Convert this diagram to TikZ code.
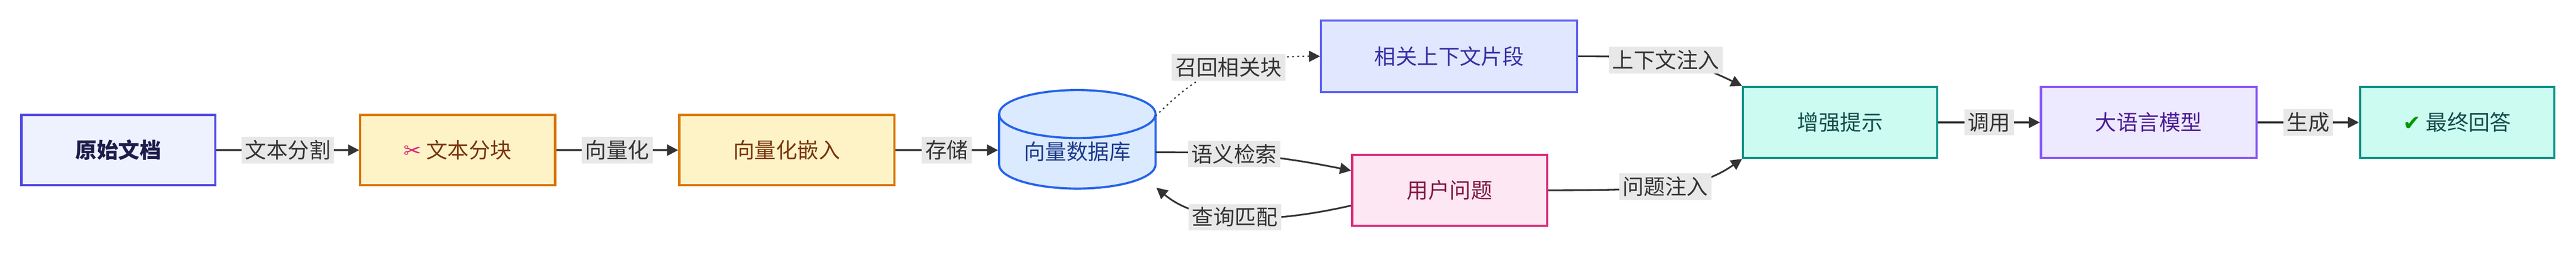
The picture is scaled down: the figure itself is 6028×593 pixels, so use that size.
\documentclass[tikz,border=0pt]{standalone}
\usepackage{fontspec}
\setmainfont{Noto Sans CJK SC}
\newfontfamily\symfont{DejaVu Sans}
\usetikzlibrary{shapes.geometric,arrows.meta}
\definecolor{docfill}{HTML}{EEF2FF}\definecolor{docdraw}{HTML}{4F46E5}\definecolor{doctext}{HTML}{1E1B4B}
\definecolor{procfill}{HTML}{FEF3C7}\definecolor{procdraw}{HTML}{D97706}\definecolor{proctext}{HTML}{78350F}
\definecolor{dbfill}{HTML}{DBEAFE}\definecolor{dbdraw}{HTML}{2563EB}\definecolor{dbtext}{HTML}{1E3A8A}
\definecolor{ctxfill}{HTML}{E0E7FF}\definecolor{ctxdraw}{HTML}{6366F1}\definecolor{ctxtext}{HTML}{3730A3}
\definecolor{qfill}{HTML}{FCE7F3}\definecolor{qdraw}{HTML}{DB2777}\definecolor{qtext}{HTML}{831843}
\definecolor{outfill}{HTML}{CCFBF1}\definecolor{outdraw}{HTML}{0D9488}\definecolor{outtext}{HTML}{134E4A}
\definecolor{llmfill}{HTML}{EDE9FE}\definecolor{llmdraw}{HTML}{8B5CF6}\definecolor{llmtext}{HTML}{4C1D95}
\definecolor{lblfill}{HTML}{E8E8E8}\definecolor{edgecol}{HTML}{333333}
\tikzset{%
    box/.style={shape=rectangle,line width=5pt,inner sep=0pt,font=\fontsize{50}{60}\selectfont},
    flow/.style={-{Triangle[length=26pt,width=26pt]},line width=4pt,draw=edgecol},
    lbl/.style={fill=lblfill,text=edgecol,inner sep=8pt,font=\fontsize{50}{60}\selectfont},
}
\begin{document}
\begin{tikzpicture}[x=1pt,y=-1pt]
        \useasboundingbox (0,0) rectangle (6028,593);
        % nodes
        \node[box,fill=docfill,draw=docdraw,text=doctext,font=\fontsize{50}{60}\selectfont\bfseries,minimum width=454pt,minimum height=165pt] (doc) at (277,352) {原始文档};
        \node[box,fill=procfill,draw=procdraw,text=proctext,minimum width=456pt,minimum height=165pt] (chunk) at (1071,352) {{\symfont\color{qdraw}✂}\ 文本分块};
        \node[box,fill=procfill,draw=procdraw,text=proctext,minimum width=503pt,minimum height=165pt] (embed) at (1841,352) {向量化嵌入};
        \node[box,cylinder,shape border rotate=90,aspect=0.45,fill=dbfill,draw=dbdraw,text=dbtext,minimum width=366pt,minimum height=231pt] (db) at (2521,356) {\raisebox{-25pt}{向量数据库}};
        \node[box,fill=ctxfill,draw=ctxdraw,text=ctxtext,minimum width=599pt,minimum height=167pt] (ctx) at (3391,132) {相关上下文片段};
        \node[box,fill=qfill,draw=qdraw,text=qtext,minimum width=456pt,minimum height=166pt] (query) at (3392,446) {用户问题};
        \node[box,fill=outfill,draw=outdraw,text=outtext,minimum width=454pt,minimum height=166pt] (prompt) at (4306,287) {增强提示};
        \node[box,fill=llmfill,draw=llmdraw,text=llmtext,minimum width=504pt,minimum height=166pt] (llm) at (5028,287) {大语言模型};
        \node[box,fill=outfill,draw=outdraw,text=outtext,minimum width=455pt,minimum height=166pt] (answer) at (5750,287) {{\symfont\color{green!60!black}✔}\ 最终回答};

        % connectors
        \draw[flow] (doc) -- node[lbl] {文本分割} (chunk);
        \draw[flow] (chunk) -- node[lbl] {向量化} (embed);
        \draw[flow] (embed) -- node[lbl] {存储} (db.west |- embed);
        \draw[flow,line width=3pt,dash pattern=on 4pt off 8pt] (2704,272) .. controls (2790,190) and (2850,132) .. (ctx.west) node[lbl,pos=0.6,solid] {召回相关块};
        \draw[flow] (2704,357) .. controls (2850,357) and (2950,357) .. (query.north west |- 0,400) node[lbl,pos=0.45] {语义检索};
        \draw[flow] (query.south west |- 0,482) .. controls (2950,530) and (2800,520) .. (2706,440) node[lbl,pos=0.5] {查询匹配};
        \draw[flow] (ctx.east) .. controls (3900,132) and (3950,140) .. (prompt.north west) node[lbl,pos=0.45] {上下文注入};
        \draw[flow] (query.east) .. controls (3900,446) and (3980,440) .. (prompt.south west) node[lbl,pos=0.45] {问题注入};
        \draw[flow] (prompt) -- node[lbl] {调用} (llm);
        \draw[flow] (llm) -- node[lbl] {生成} (answer);
      \end{tikzpicture}
\end{document}
